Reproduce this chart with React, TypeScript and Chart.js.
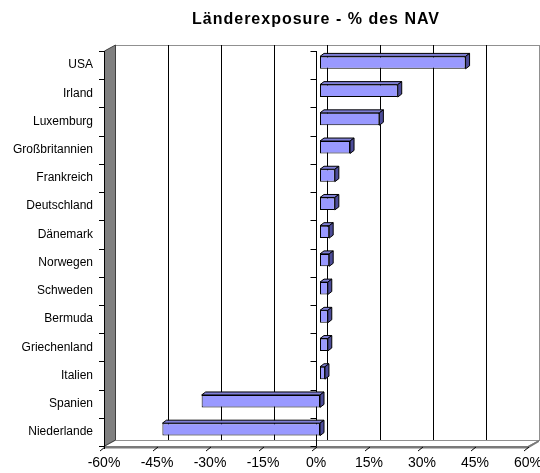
import React, { useEffect, useRef } from 'react';
import { Chart, registerables } from 'chart.js';

Chart.register(...registerables);

const chartTitle = 'Länderexposure - % des NAV';
const categories = [
  'USA', 'Irland', 'Luxemburg', 'Großbritannien', 'Frankreich', 'Deutschland', 'Dänemark',
  'Norwegen', 'Schweden', 'Bermuda', 'Griechenland', 'Italien', 'Spanien', 'Niederlande',
];
const exposure = [41.2, 22.0, 16.8, 8.5, 4.2, 4.2, 2.6, 2.6, 2.2, 2.2, 2.2, 1.4, -33.5, -44.6];
const xTickValues = [-60, -45, -30, -15, 0, 15, 30, 45, 60];

const BACK_DX = 11;
const BACK_DY = -6;
const BAR_SHIFT_X = 4;
const BAR_SHIFT_Y = -2.5;
const BAR_DEPTH_X = 4;
const BAR_DEPTH_Y = -3;

const frame3d = {
  id: 'frame3d',
  beforeDatasetsDraw(chart: any) {
    const { ctx, chartArea: a, scales } = chart;
    const xs = scales.x;
    const L = Math.round(a.left), R = Math.round(a.right), T = Math.round(a.top), B = Math.round(a.bottom);
    const n = categories.length;
    const band = (B - T) / n;
    ctx.save();
    ctx.lineWidth = 1;

    // back wall
    ctx.fillStyle = '#ffffff';
    ctx.fillRect(L + BACK_DX, T + BACK_DY, R - L, B - T);
    ctx.strokeStyle = '#909090';
    ctx.strokeRect(L + BACK_DX + 0.5, T + BACK_DY + 0.5, R - L, B - T);

    // back gridlines
    ctx.strokeStyle = '#000000';
    xTickValues.forEach((v) => {
      if (v === xTickValues[0] || v === xTickValues[xTickValues.length - 1]) return;
      const px = Math.round(xs.getPixelForValue(v)) + BACK_DX + 0.5;
      ctx.beginPath();
      ctx.moveTo(px, T + BACK_DY);
      ctx.lineTo(px, B + BACK_DY);
      ctx.stroke();
    });

    // floor
    ctx.beginPath();
    ctx.moveTo(L, B + 0.5);
    ctx.lineTo(L + BACK_DX, B + BACK_DY + 0.5);
    ctx.lineTo(R + BACK_DX, B + BACK_DY + 0.5);
    ctx.lineTo(R, B + 0.5);
    ctx.closePath();
    ctx.fillStyle = '#ffffff';
    ctx.fill();
    ctx.strokeStyle = '#909090';
    ctx.stroke();
    // floor front thickness
    ctx.fillStyle = '#7a7a7a';
    ctx.beginPath();
    ctx.moveTo(L, B);
    ctx.lineTo(R, B);
    ctx.lineTo(R + BACK_DX, B + BACK_DY);
    ctx.lineTo(R + BACK_DX, B + BACK_DY + 2);
    ctx.lineTo(R, B + 2.5);
    ctx.lineTo(L, B + 2.5);
    ctx.closePath();
    ctx.fill();

    // left wall
    ctx.beginPath();
    ctx.moveTo(L + 0.5, T);
    ctx.lineTo(L + BACK_DX + 0.5, T + BACK_DY);
    ctx.lineTo(L + BACK_DX + 0.5, B + BACK_DY);
    ctx.lineTo(L + 0.5, B);
    ctx.closePath();
    ctx.fillStyle = '#808080';
    ctx.fill();
    ctx.strokeStyle = '#404040';
    ctx.stroke();

    // left axis line + ticks
    ctx.strokeStyle = '#000000';
    ctx.beginPath();
    ctx.moveTo(L + 0.5, T);
    ctx.lineTo(L + 0.5, B + 3);
    for (let k = 0; k <= n; k++) {
      const py = Math.round(T + k * band) + 0.5;
      ctx.moveTo(L - 5, py);
      ctx.lineTo(L + 0.5, py);
    }
    ctx.stroke();

    // zero value line in the front plane with category ticks
    const x0 = Math.round(xs.getPixelForValue(0)) + 0.5;
    ctx.beginPath();
    ctx.moveTo(x0, T);
    ctx.lineTo(x0, B);
    for (let k = 0; k <= n; k++) {
      const py = Math.round(T + k * band) + 0.5;
      ctx.moveTo(x0 - 6, py);
      ctx.lineTo(x0, py);
    }
    ctx.stroke();

    // front value axis ticks
    ctx.beginPath();
    xTickValues.forEach((v) => {
      const px = xs.getPixelForValue(v);
      ctx.moveTo(px + 1, B + 1);
      ctx.lineTo(px - 4, B + 5);
    });
    ctx.stroke();

    ctx.restore();

    // shift bars to their depth
    ctx.save();
    ctx.translate(BAR_SHIFT_X, BAR_SHIFT_Y);
  },
  afterDatasetsDraw(chart: any) {
    const { ctx } = chart;
    const meta = chart.getDatasetMeta(0);
    ctx.lineWidth = 1;
    ctx.strokeStyle = '#000000';
    meta.data.forEach((bar: any) => {
      const { x, y, base, height } = bar.getProps(['x', 'y', 'base', 'height'], true);
      const left = Math.min(x, base);
      const right = Math.max(x, base);
      const top = y - height / 2;
      const bottom = y + height / 2;
      // top face
      ctx.beginPath();
      ctx.moveTo(left, top);
      ctx.lineTo(left + BAR_DEPTH_X, top + BAR_DEPTH_Y);
      ctx.lineTo(right + BAR_DEPTH_X, top + BAR_DEPTH_Y);
      ctx.lineTo(right, top);
      ctx.closePath();
      ctx.fillStyle = '#7f7fd6';
      ctx.fill();
      ctx.stroke();
      // side face
      ctx.beginPath();
      ctx.moveTo(right, top);
      ctx.lineTo(right + BAR_DEPTH_X, top + BAR_DEPTH_Y);
      ctx.lineTo(right + BAR_DEPTH_X, bottom + BAR_DEPTH_Y);
      ctx.lineTo(right, bottom);
      ctx.closePath();
      ctx.fillStyle = '#4c4c99';
      ctx.fill();
      ctx.stroke();
    });
    ctx.restore();
  },
  afterDraw(chart: any) {
    const { ctx, chartArea: a } = chart;
    ctx.save();
    ctx.font = 'bold 16px "Liberation Sans", Arial, sans-serif';
    (ctx as any).letterSpacing = '1px';
    ctx.fillStyle = '#000000';
    ctx.textAlign = 'center';
    ctx.textBaseline = 'alphabetic';
    ctx.fillText(chartTitle, (a.left + a.right) / 2, 24);
    ctx.restore();
  },
};

export default function App() {
  const ref = useRef<HTMLCanvasElement>(null);

  useEffect(() => {
    if (!ref.current) return;
    Chart.defaults.font.family = '"Liberation Sans", Arial, sans-serif';
    const chart = new Chart(ref.current, {
      type: 'bar',
      data: {
        labels: categories,
        datasets: [
          {
            data: exposure,
            backgroundColor: '#9999ff',
            borderColor: '#000000',
            borderWidth: 1,
            borderSkipped: false,
            barPercentage: 0.44,
            categoryPercentage: 1,
            clip: false,
          } as any,
        ],
      },
      options: {
        indexAxis: 'y',
        responsive: false,
        animation: false,
        layout: { padding: { top: 51, right: 12, left: 0, bottom: 0 } },
        plugins: {
          legend: { display: false },
          tooltip: { enabled: false },
          title: { display: false },
        },
        scales: {
          x: {
            type: 'linear',
            min: -60,
            max: 60,
            afterBuildTicks: (s: any) => {
              s.ticks = xTickValues.map((v) => ({ value: v }));
            },
            ticks: {
              callback: (v: any) => `${v}%`,
              color: '#000000',
              font: { size: 14 },
              padding: 9,
              maxRotation: 0,
              autoSkip: false,
            },
            grid: { display: false, drawTicks: false },
            border: { display: false },
            afterFit: (s: any) => {
              s.height = 27;
              s.paddingLeft = 0;
              s.paddingRight = 0;
            },
          },
          y: {
            ticks: { color: '#000000', font: { size: 12 }, padding: 11, autoSkip: false },
            grid: { display: false, drawTicks: false },
            border: { display: false },
            afterFit: (s: any) => {
              s.width = 104;
              s.paddingTop = 0;
              s.paddingBottom = 0;
            },
          },
        },
      } as any,
      plugins: [frame3d],
    });
    return () => chart.destroy();
  }, []);

  return (
    <div style={{ position: 'fixed', left: 0, top: 0, width: 540, height: 473 }}>
      <canvas ref={ref} width={540} height={473} style={{ display: 'block', width: 540, height: 473 }} />
    </div>
  );
}
